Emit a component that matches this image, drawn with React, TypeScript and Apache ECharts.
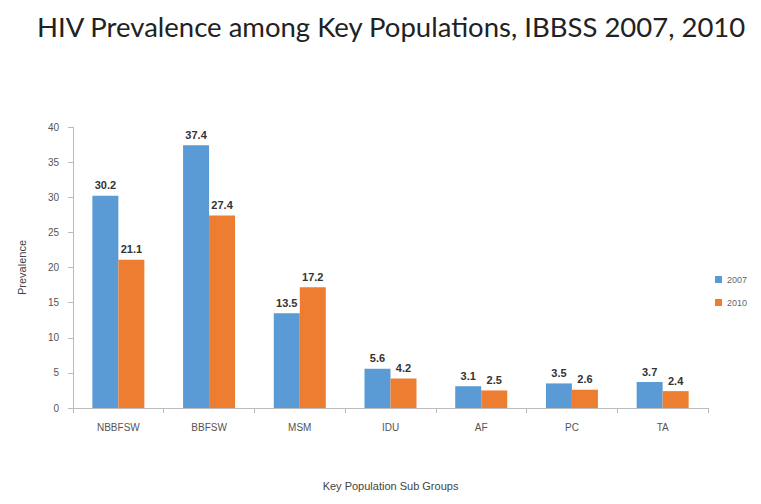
import React, { useEffect, useRef } from "react";
import * as echarts from "echarts";

const categories = ["NBBFSW", "BBFSW", "MSM", "IDU", "AF", "PC", "TA"];
const series2007 = [30.2, 37.4, 13.5, 5.6, 3.1, 3.5, 3.7];
const series2010 = [21.1, 27.4, 17.2, 4.2, 2.5, 2.6, 2.4];
const seriesNames = ["2007", "2010"];

export default function App() {
  const ref = useRef<HTMLDivElement>(null);
  useEffect(() => {
    if (!ref.current) return;
    const chart = echarts.init(ref.current, null, { renderer: "svg" });
    const labelStyle = {
      show: true,
      position: "top" as const,
      fontSize: 11,
      fontWeight: "bold" as const,
      color: "#333",
      fontFamily: "Liberation Sans, Arial, sans-serif",
      formatter: (p: any) => Number(p.value).toFixed(1),
    };
    chart.setOption({
      animation: false,
      backgroundColor: "#fff",
      title: {
        text: "HIV Prevalence among Key Populations, IBBSS 2007, 2010",
        left: 29,
        top: 4,
        padding: 0,
        textStyle: {
          fontSize: 27.5,
          fontWeight: "normal",
          color: "#222",
          fontFamily: "Lato, Open Sans, sans-serif",
        },
      },
      legend: {
        orient: "vertical",
        left: 702,
        top: 262,
        itemWidth: 7,
        itemHeight: 7,
        itemGap: 14,
        icon: "rect",
        textStyle: { fontSize: 9, color: "#666" },
        data: seriesNames,
      },
      grid: { left: 59, right: 45, top: 119, bottom: 76, containLabel: false },
      xAxis: {
        type: "category",
        data: categories,
        name: "Key Population Sub Groups",
        nameLocation: "middle",
        nameGap: 72,
        nameTextStyle: { fontSize: 11, color: "#444" },
        axisLine: { lineStyle: { color: "#bbb" } },
        axisTick: { show: true, lineStyle: { color: "#bbb" } },
        axisLabel: { fontSize: 10, color: "#555", margin: 14 },
      },
      yAxis: {
        type: "value",
        min: 0,
        max: 40,
        interval: 5,
        name: "Prevalence",
        nameLocation: "middle",
        nameGap: 46,
        nameRotate: 90,
        nameTextStyle: { fontSize: 11, color: "#444" },
        axisLine: { show: true, lineStyle: { color: "#bbb" } },
        axisTick: { show: true, lineStyle: { color: "#bbb" } },
        axisLabel: { fontSize: 10, color: "#555", margin: 14 },
        splitLine: { show: false },
      },
      series: [
        {
          name: seriesNames[0],
          type: "bar",
          data: series2007,
          barWidth: 26,
          barGap: "0%",
          itemStyle: { color: "#5B9BD5" },
          label: labelStyle,
        },
        {
          name: seriesNames[1],
          type: "bar",
          data: series2010,
          barWidth: 26,
          barGap: "0%",
          itemStyle: { color: "#ED7D31" },
          label: labelStyle,
        },
      ],
    });
    return () => chart.dispose();
  }, []);
  return <div ref={ref} style={{ width: 745, height: 488 }} />;
}
